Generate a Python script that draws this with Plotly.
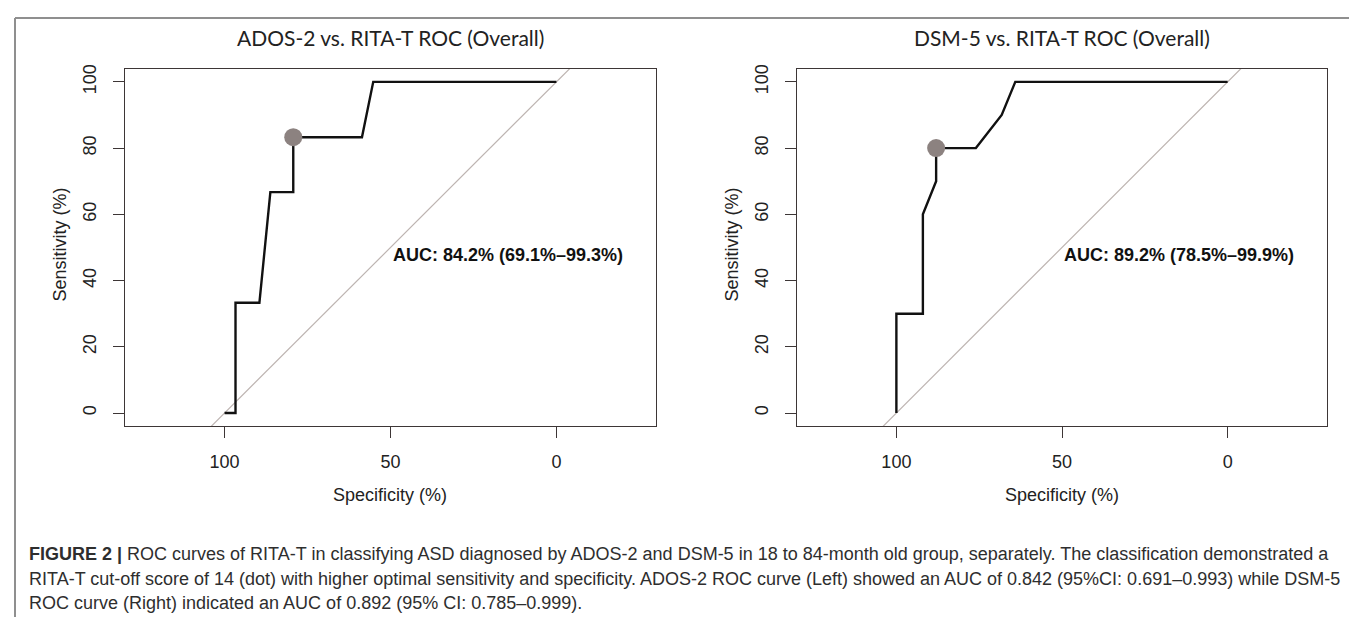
import plotly.graph_objects as go

W, H = 1357, 617

# ---- data ----
ados_spec = [100, 96.7, 96.7, 89.5, 86.2, 79.3, 79.3, 58.6, 55.2, 0]
ados_sens = [0, 0, 33.3, 33.3, 66.7, 66.7, 83.3, 83.3, 100, 100]
ados_best = (79.3, 83.3)
ados_auc = "AUC: 84.2% (69.1%–99.3%)"

dsm_spec = [100, 100, 92.0, 92.0, 88.0, 88.0, 76.0, 68.2, 64.1, 0]
dsm_sens = [0, 30, 30, 60, 70, 80, 80, 90, 100, 100]
dsm_best = (88.0, 80.0)
dsm_auc = "AUC: 89.2% (78.5%–99.9%)"

diag_spec = [130, -30]
diag_sens = [100 - s for s in diag_spec]

titles = ["ADOS-2 vs. RITA-T ROC (Overall)", "DSM-5 vs. RITA-T ROC (Overall)"]
x_ticks = [100, 50, 0]
y_ticks = [0, 20, 40, 60, 80, 100]

caption_lines = [
    "<b>FIGURE 2 |</b> ROC curves of RITA-T in classifying ASD diagnosed by ADOS-2 and DSM-5 in 18 to 84-month old group, separately. The classification demonstrated a",
    "RITA-T cut-off score of 14 (dot) with higher optimal sensitivity and specificity. ADOS-2 ROC curve (Left) showed an AUC of 0.842 (95%CI: 0.691–0.993) while DSM-5",
    "ROC curve (Right) indicated an AUC of 0.892 (95% CI: 0.785–0.999).",
]

# ---- layout geometry (pixels) ----
boxes = [(117, 648), (789, 1319)]
box_top, box_bot = 57, 417

def px(x):
    return x / W

def py(y):
    return 1 - y / H

AXC = "#3d3636"
FONT = "Liberation Sans, Arial, sans-serif"

fig = go.Figure()
panels = [(ados_spec, ados_sens, ados_best, ados_auc), (dsm_spec, dsm_sens, dsm_best, dsm_auc)]
for i, (sp, se, best, auc) in enumerate(panels):
    xa = "x" if i == 0 else "x2"
    ya = "y" if i == 0 else "y2"
    fig.add_trace(go.Scatter(x=diag_spec, y=diag_sens, mode="lines",
                             line=dict(color="#bdb4b1", width=1.2),
                             xaxis=xa, yaxis=ya, showlegend=False, hoverinfo="skip"))
    fig.add_trace(go.Scatter(x=sp, y=se, mode="lines",
                             line=dict(color="#111111", width=2.4),
                             xaxis=xa, yaxis=ya, showlegend=False))
    fig.add_trace(go.Scatter(x=[best[0]], y=[best[1]], mode="markers",
                             marker=dict(color="#8c8280", size=18),
                             xaxis=xa, yaxis=ya, showlegend=False, cliponaxis=False))
    fig.add_annotation(x=50, y=47.6, xref=xa, yref=ya, text="<b>" + auc + "</b>", showarrow=False,
                       xanchor="left", yanchor="middle",
                       font=dict(family=FONT, size=18, color="#111"))
    x0, x1 = boxes[i]
    cx = (x0 + x1) / 2
    fig.add_annotation(x=px(cx), y=py(26), xref="paper", yref="paper", text=titles[i],
                       showarrow=False, xanchor="center", yanchor="middle",
                       font=dict(family="Lato, Open Sans, sans-serif", size=21, color="#222"))
    fig.add_annotation(x=px(cx), y=py(486), xref="paper", yref="paper", text="Specificity (%)",
                       showarrow=False, xanchor="center", yanchor="middle",
                       font=dict(family=FONT, size=18, color="#222"))
    fig.add_annotation(x=px(x0 - 65), y=py((box_top + box_bot) / 2 - 3), xref="paper", yref="paper",
                       text="Sensitivity (%)", textangle=-90,
                       showarrow=False, xanchor="center", yanchor="middle",
                       font=dict(family=FONT, size=18, color="#222"))

axis_common = dict(showgrid=False, zeroline=False, showline=True, mirror=True,
                   linecolor=AXC, linewidth=1.2, ticks="outside", ticklen=11,
                   tickcolor=AXC, tickwidth=1.2,
                   tickfont=dict(family=FONT, size=18, color="#222"))
for i in range(2):
    x0, x1 = boxes[i]
    sfx = "" if i == 0 else str(i + 1)
    fig.update_layout(**{
        "xaxis" + sfx: dict(axis_common, domain=[px(x0), px(x1)], range=[130, -30],
                            tickvals=x_ticks, ticklabelstandoff=8,
                            anchor="y" + sfx),
        "yaxis" + sfx: dict(axis_common, domain=[py(box_bot), py(box_top)], range=[-4, 104],
                            tickvals=y_ticks, tickangle=-90, ticklabelstandoff=10,
                            anchor="x" + sfx),
    })

for k, line in enumerate(caption_lines):
    fig.add_annotation(x=px(19), y=py(546 + 24.5 * k), xref="paper", yref="paper", text=line,
                       showarrow=False, xanchor="left", yanchor="middle",
                       font=dict(family=FONT, size=18, color="#2e2e2e"))

frame = dict(type="line", xref="paper", yref="paper", line=dict(color="#8f8f8f", width=2))
fig.add_shape(frame, x0=px(7), y0=0, x1=px(7), y1=py(6))
fig.add_shape(frame, x0=px(7), y0=py(6), x1=px(1355), y1=py(6))
fig.add_shape(frame, x0=px(1355), y0=py(6), x1=px(1355), y1=0)

fig.update_layout(width=W, height=H, margin=dict(l=0, r=0, t=0, b=0),
                  paper_bgcolor="white", plot_bgcolor="white", showlegend=False)

fig.write_html("out.html")
